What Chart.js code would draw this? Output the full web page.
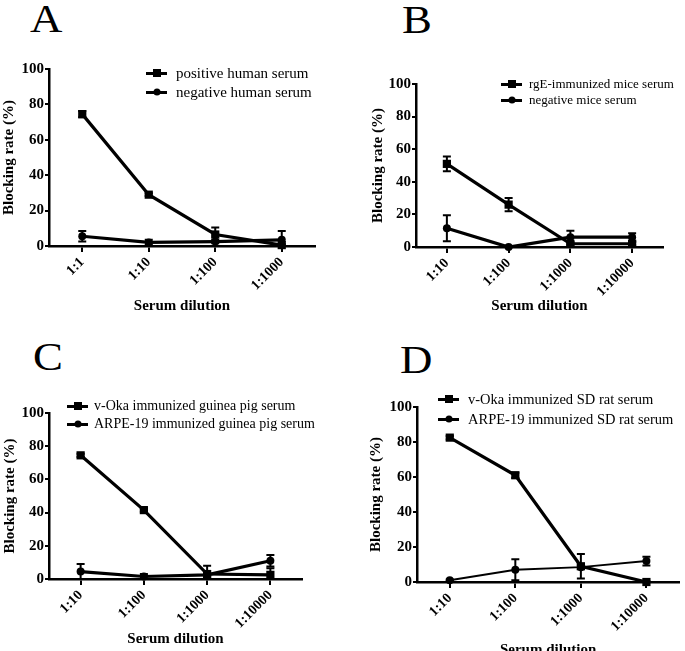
<!DOCTYPE html>
<html>
<head>
<meta charset="utf-8">
<script src="https://cdn.jsdelivr.net/npm/chart.js@4/dist/chart.umd.min.js"></script>
<style>
  body { margin: 0; background: #fff; }
  #wrap { position: relative; width: 685px; height: 651px; overflow: hidden; font-family: 'Liberation Serif', 'Times New Roman', serif; }
  canvas { position: absolute; }
  .letter { position: absolute; font-size: 39px; line-height: 1; color: #000; transform: scaleX(1.15); transform-origin: left top; }
  .leg { position: absolute; display: flex; align-items: center; height: 20px; color: #000; white-space: nowrap; }
  .sym { position: relative; display: inline-block; width: 21px; height: 3px; background: #000; }
  .sym i { position: absolute; left: 50%; top: 50%; background: #000; transform: translate(-50%, -50%); }
  .sym i.sq { width: 8px; height: 8px; }
  .sym i.ci { width: 7px; height: 7px; border-radius: 50%; }
</style>
</head>
<body>
<div id="wrap">
  <div class="letter" style="left:30px;top:-1px">A</div>
  <div class="letter" style="left:402px;top:0px">B</div>
  <div class="letter" style="left:33px;top:337px">C</div>
  <div class="letter" style="left:400px;top:340px">D</div>
  <canvas id="chartA" width="340" height="290" style="left:0px;top:40px"></canvas>
  <canvas id="chartB" width="343" height="290" style="left:342px;top:40px"></canvas>
  <canvas id="chartC" width="340" height="291" style="left:0px;top:360px"></canvas>
  <canvas id="chartD" width="343" height="300" style="left:342px;top:360px"></canvas>
</div>
<script>
// categories
const dilutionsA = ['1:1', '1:10', '1:100', '1:1000'];
const dilutionsBCD = ['1:10', '1:100', '1:1000', '1:10000'];
const yTicks = [0, 20, 40, 60, 80, 100];

// A - human serum
const posHuman = [74.5, 29, 6.5, 0.5];
const posHumanErr = [1.8, 0.8, 4, 0.5];
const negHuman = [5.5, 2, 2.5, 3.5];
const negHumanErr = [3, 1.5, 1, 5];

// B - mice serum
const rgEMice = [51, 26, 2, 2];
const rgEMiceErr = [4.5, 4, 1, 1];
const negMice = [11.5, 0, 6, 6];
const negMiceErr = [8, 0.5, 4, 2.5];

// C - guinea pig serum
const vOkaGuinea = [74.5, 41.5, 3, 2.5];
const vOkaGuineaErr = [1, 1, 5, 4];
const arpeGuinea = [4.5, 1.5, 2.5, 11];
const arpeGuineaErr = [4.5, 1.5, 1, 3.5];

// D - SD rat serum
const vOkaRat = [82.5, 61, 9, 0];
const vOkaRatErr = [1, 1.5, 7, 0.5];
const arpeRat = [1, 7, 8.5, 12];
const arpeRatErr = [0.5, 6, 1, 2.5];

const SERIF = "'Liberation Serif', 'Times New Roman', serif";

// draws vertical error bars with caps, using the y scale
const errorBars = {
    id: 'errorBars',
    afterDatasetsDraw(chart) {
        const ctx = chart.ctx;
        const yScale = chart.scales.y;
        chart.data.datasets.forEach((ds, i) => {
            const meta = chart.getDatasetMeta(i);
            ctx.save();
            ctx.strokeStyle = '#000';
            ctx.lineWidth = 2;
            meta.data.forEach((pt, j) => {
                const e = ds.errors[j];
                if (!e) return;
                const top = yScale.getPixelForValue(ds.data[j] + e);
                const bot = yScale.getPixelForValue(Math.max(0, ds.data[j] - e));
                ctx.beginPath();
                ctx.moveTo(pt.x, top); ctx.lineTo(pt.x, bot);
                ctx.moveTo(pt.x - 4, top); ctx.lineTo(pt.x + 4, top);
                ctx.moveTo(pt.x - 4, bot); ctx.lineTo(pt.x + 4, bot);
                ctx.stroke();
            });
            ctx.restore();
        });
    }
};

function series(data, errors, style, width) {
    return {
        data: data,
        errors: errors,
        borderColor: '#000',
        backgroundColor: '#000',
        borderWidth: width,
        pointStyle: style,
        pointRadius: style === 'rect' ? 5.8 : 4,
        pointBorderWidth: 0,
        tension: 0,
        clip: false
    };
}

function makeChart(id, labels, datasets, lay) {
    const ctx = document.getElementById(id).getContext('2d');
    return new Chart(ctx, {
        type: 'line',
        data: { labels: labels, datasets: datasets },
        plugins: [errorBars],
        options: {
            responsive: false,
            animation: false,
            devicePixelRatio: 1,
            layout: { padding: { top: lay.top, right: lay.right, left: 0, bottom: 0 } },
            plugins: { legend: { display: false }, tooltip: { enabled: false } },
            scales: {
                x: {
                    type: 'category',
                    offset: true,
                    grid: { display: true, offset: false, drawOnChartArea: false, drawTicks: true, tickLength: 6, color: '#000', lineWidth: 2 },
                    border: { display: true, color: '#000', width: 2.5 },
                    ticks: { color: '#000', font: { family: SERIF, size: 14, weight: 'bold' }, minRotation: 45, maxRotation: 45, padding: 2 },
                    title: { display: true, text: 'Serum dilution', color: '#000', font: { family: SERIF, size: 15, weight: 'bold' }, padding: { top: 0, bottom: lay.xTitlePad } },
                    afterFit(scale) { scale.height = lay.xH; }
                },
                y: {
                    min: 0,
                    max: 100,
                    afterBuildTicks(scale) { scale.ticks = yTicks.map(v => ({ value: v })); },
                    grid: { display: true, drawOnChartArea: false, drawTicks: true, tickLength: 4, color: '#000', lineWidth: 2 },
                    border: { display: true, color: '#000', width: 2.5 },
                    ticks: { color: '#000', font: { family: SERIF, size: 15, weight: 'bold' }, padding: 1 },
                    title: { display: true, text: 'Blocking rate (%)', color: '#000', font: { family: SERIF, size: 15, weight: 'bold' }, padding: { top: lay.yTitlePad, bottom: 0 } },
                    afterFit(scale) { scale.width = lay.yW; }
                }
            }
        }
    });
}

function addLegend(x, y, gap, size, rows) {
    const wrap = document.getElementById('wrap');
    rows.forEach((r, i) => {
        const d = document.createElement('div');
        d.className = 'leg';
        d.style.left = x + 'px';
        d.style.top = (y + i * gap - 10) + 'px';
        d.style.fontSize = size + 'px';
        d.innerHTML = `<span class="sym"><i class="${r.marker}"></i></span><span style="margin-left:${r.space}px">${r.text}</span>`;
        wrap.appendChild(d);
    });
}

makeChart('chartA', dilutionsA, [
    series(posHuman, posHumanErr, 'rect', 3.2),
    series(negHuman, negHumanErr, 'circle', 3.2)
], { top: 29, right: 25, yW: 49, xH: 84, yTitlePad: 0, xTitlePad: 15 });

makeChart('chartB', dilutionsBCD, [
    series(rgEMice, rgEMiceErr, 'rect', 3.2),
    series(negMice, negMiceErr, 'circle', 3.2)
], { top: 44, right: 22, yW: 74, xH: 83, yTitlePad: 27, xTitlePad: 15 });

makeChart('chartC', dilutionsBCD, [
    series(vOkaGuinea, vOkaGuineaErr, 'rect', 3.2),
    series(arpeGuinea, arpeGuineaErr, 'circle', 3.2)
], { top: 53, right: 38, yW: 49, xH: 72, yTitlePad: 1, xTitlePad: 3 });

makeChart('chartD', dilutionsBCD, [
    series(vOkaRat, vOkaRatErr, 'rect', 3.2),
    series(arpeRat, arpeRatErr, 'circle', 1.8)
], { top: 47, right: 2, yW: 75, xH: 78, yTitlePad: 25, xTitlePad: 1 });

addLegend(146, 73, 19, 15, [
    { marker: 'sq', text: 'positive human serum', space: 9 },
    { marker: 'ci', text: 'negative human serum', space: 9 }
]);
addLegend(501, 84, 16, 13, [
    { marker: 'sq', text: 'rgE-immunized mice serum', space: 7 },
    { marker: 'ci', text: 'negative mice serum', space: 7 }
]);
addLegend(67, 406, 18, 14, [
    { marker: 'sq', text: 'v-Oka immunized guinea pig serum', space: 6 },
    { marker: 'ci', text: 'ARPE-19 immunized guinea pig serum', space: 6 }
]);
addLegend(438, 399, 20, 14.5, [
    { marker: 'sq', text: 'v-Oka immunized SD rat serum', space: 9 },
    { marker: 'ci', text: 'ARPE-19 immunized SD rat serum', space: 9 }
]);
</script>
</body>
</html>
